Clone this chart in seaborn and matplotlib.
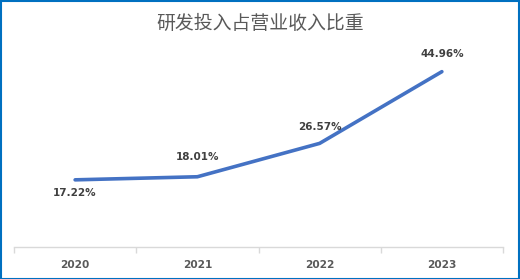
import matplotlib
matplotlib.use("Agg")
import matplotlib.pyplot as plt
import seaborn as sns
import pandas as pd
from matplotlib.patches import Rectangle

years = ["2020", "2021", "2022", "2023"]
ratios = [17.22, 18.01, 26.57, 44.96]
labels = ["17.22%", "18.01%", "26.57%", "44.96%"]

sns.set_theme(style="white")
plt.rcParams['font.family'] = ['Noto Sans CJK SC', 'DejaVu Sans']

df = pd.DataFrame({"year": years, "ratio": ratios})

fig = plt.figure(figsize=(5.2, 2.79), dpi=100)
ax = fig.add_axes([14/520, 1-247/279, 489/520, 195/279])
sns.lineplot(data=df, x="year", y="ratio", ax=ax, color="#4472C4", linewidth=2.6,
             sort=False)
ax.set_xlim(-0.5, 3.5)
ax.set_ylim(0, 50)
ax.set_xlabel("")
ax.set_ylabel("")
ax.set_yticks([])
for s in ["top", "left", "right"]:
    ax.spines[s].set_visible(False)
ax.spines["bottom"].set_color("#D9D9D9")
ax.spines["bottom"].set_linewidth(1.0)
ax.set_xticks(range(len(years)))
ax.set_xticklabels(years, fontsize=7.6, fontweight="bold", color="#595959",
                   family=["DejaVu Sans"])
ax.set_xticks([-0.5, 0.5, 1.5, 2.5, 3.5], minor=True)
ax.tick_params(axis="x", which="major", length=0, pad=9)
ax.tick_params(axis="x", which="minor", length=4, color="#D9D9D9", width=1, bottom=True)

offsets = [-13, 20, 16, 18]
for i, (v, lab) in enumerate(zip(ratios, labels)):
    ax.annotate(lab, (i, v), xytext=(0, offsets[i]),
                textcoords="offset pixels", ha="center", va="center",
                fontsize=7.5, fontweight="bold", color="#404040",
                family=["DejaVu Sans"])

fig.text(0.5, 1-23/279, "研发投入占营业收入比重", ha="center", va="center",
         fontsize=13.6, color="#595959")

fig.patches.append(Rectangle((0.5/520, 0.5/279), 518/520, 277.5/279, transform=fig.transFigure,
                             fill=False, edgecolor="#0070C0", linewidth=1.5))

fig.savefig("out.png", dpi=100)
